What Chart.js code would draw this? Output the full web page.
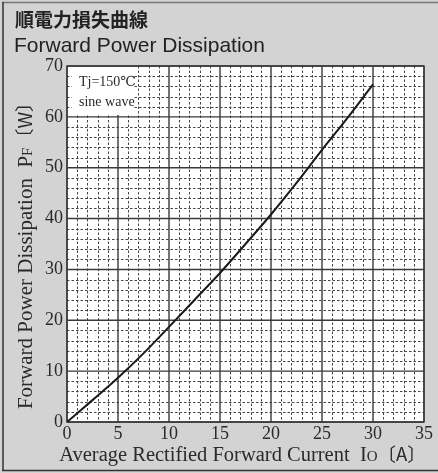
<!DOCTYPE html>
<html>
<head>
<meta charset="utf-8">
<script src="https://cdn.jsdelivr.net/npm/chart.js@4.4.1/dist/chart.umd.min.js"></script>
<style>
  html, body { margin: 0; padding: 0; background: #d3d3d3; }
  #wrap { width: 438px; height: 473px; position: relative; }
</style>
</head>
<body>
<div id="wrap"><canvas id="c" width="438" height="473"></canvas></div>
<script>
// Forward power dissipation vs. average rectified forward current
const currentA = [0, 2.5, 5, 7.5, 10, 12.5, 15, 17.5, 20, 22.5, 25, 27.5, 30];
const powerW   = [0, 4.3, 8.7, 13.5, 18.7, 24.0, 29.3, 35.0, 40.8, 47.0, 53.5, 59.8, 66.4];
const xTicks = [0, 5, 10, 15, 20, 25, 30, 35];
const yTicks = [0, 10, 20, 30, 40, 50, 60, 70];
const headingJa = '順電力損失曲線';
const headingEn = 'Forward Power Dissipation';
const noteLines = ['Tj=150℃', 'sine wave'];
const xMinorStep = 1, yMinorStep = 2;

const SERIF = '"Liberation Serif", "DejaVu Serif", serif';
const CJK = '"Noto Sans CJK JP", "Noto Sans CJK SC", sans-serif';
const INK = '#2a2a2a';

// draw a run of text pieces with varying fonts along a baseline
function drawRuns(ctx, runs, x, y) {
  let w = 0;
  runs.forEach(r => { ctx.font = r.font; w += ctx.measureText(r.text).width; });
  let cx = x - w / 2;
  runs.forEach(r => {
    ctx.font = r.font;
    ctx.fillText(r.text, cx, y);
    cx += ctx.measureText(r.text).width;
  });
}

const panel = {
  id: 'panel',
  beforeDraw(chart) {
    const ctx = chart.ctx;
    ctx.save();
    ctx.fillStyle = '#d3d3d3';
    ctx.fillRect(0, 0, chart.width, chart.height);
    // frame
    ctx.strokeStyle = '#777';
    ctx.lineWidth = 1.5;
    ctx.beginPath(); ctx.moveTo(2, 2.5); ctx.lineTo(chart.width, 2.5); ctx.stroke();
    ctx.strokeStyle = '#333';
    ctx.beginPath(); ctx.moveTo(3, 2); ctx.lineTo(3, 471); ctx.stroke();
    ctx.beginPath(); ctx.moveTo(2, 470.5); ctx.lineTo(chart.width, 470.5); ctx.stroke();
    // headings
    ctx.fillStyle = '#222';
    ctx.textBaseline = 'middle';
    ctx.textAlign = 'left';
    ctx.font = 'bold 19px ' + CJK;
    ctx.fillText(headingJa, 15, 20);
    ctx.font = '21px "Liberation Sans", Arial, sans-serif';
    ctx.fillText(headingEn, 14, 46);
    ctx.restore();
  },
  beforeDatasetsDraw(chart) {
    const ctx = chart.ctx;
    const a = chart.chartArea;
    const xs = chart.scales.x, ys = chart.scales.y;
    ctx.save();
    ctx.fillStyle = '#fff';
    ctx.fillRect(a.left, a.top, a.right - a.left, a.bottom - a.top);
    // minor dashed grid
    ctx.strokeStyle = '#444';
    ctx.lineWidth = 1;
    ctx.setLineDash([2.5, 2]);
    ctx.beginPath();
    for (let v = xs.min; v <= xs.max; v += xMinorStep) {
      if (v % 5 === 0) continue;
      const px = Math.round(xs.getPixelForValue(v)) + 0.5;
      ctx.moveTo(px, a.top); ctx.lineTo(px, a.bottom);
    }
    for (let v = ys.min; v <= ys.max; v += yMinorStep) {
      if (v % 10 === 0) continue;
      const py = Math.round(ys.getPixelForValue(v)) + 0.5;
      ctx.moveTo(a.left, py); ctx.lineTo(a.right, py);
    }
    ctx.stroke();
    // major solid grid
    ctx.setLineDash([]);
    ctx.strokeStyle = '#3a3a3a';
    ctx.lineWidth = 1.4;
    ctx.beginPath();
    xTicks.forEach(v => { const px = xs.getPixelForValue(v); ctx.moveTo(px, a.top); ctx.lineTo(px, a.bottom); });
    yTicks.forEach(v => { const py = ys.getPixelForValue(v); ctx.moveTo(a.left, py); ctx.lineTo(a.right, py); });
    ctx.stroke();
    ctx.strokeRect(a.left, a.top, a.right - a.left, a.bottom - a.top);
    // condition note
    ctx.fillStyle = '#fff';
    ctx.fillRect(a.left + 5, a.top + 1, 62, 48);
    ctx.fillStyle = INK;
    ctx.textBaseline = 'middle';
    ctx.textAlign = 'left';
    ctx.font = '14px ' + SERIF;
    ctx.fillText(noteLines[0], a.left + 12, a.top + 16);
    ctx.fillText(noteLines[1], a.left + 12, a.top + 36);
    ctx.restore();
  },
  afterDraw(chart) {
    const ctx = chart.ctx;
    const a = chart.chartArea;
    ctx.save();
    ctx.fillStyle = INK;
    ctx.textBaseline = 'alphabetic';
    ctx.textAlign = 'left';
    const small = '15px ' + SERIF;
    drawRuns(ctx, [
      { text: 'Average Rectified Forward Current  I', font: '20.5px ' + SERIF },
      { text: 'O', font: small },
      { text: '〔A〕', font: '18.5px ' + CJK }
    ], (a.left + a.right) / 2 - 3, 461);
    ctx.translate(32, (a.top + a.bottom) / 2 + 7);
    ctx.rotate(-Math.PI / 2);
    drawRuns(ctx, [
      { text: 'Forward Power Dissipation  P', font: '21px ' + SERIF },
      { text: 'F', font: small },
      { text: '〔W〕', font: '19px ' + CJK }
    ], 0, 0);
    ctx.restore();
  }
};

new Chart(document.getElementById('c'), {
  type: 'scatter',
  data: {
    datasets: [{
      data: currentA.map((x, i) => ({ x, y: powerW[i] })),
      showLine: true,
      borderColor: '#1a1a1a',
      borderWidth: 2,
      pointRadius: 0,
      cubicInterpolationMode: 'monotone'
    }]
  },
  options: {
    responsive: false,
    animation: false,
    layout: { padding: { top: 66, left: 0, right: 14, bottom: 0 } },
    plugins: { legend: { display: false }, tooltip: { enabled: false } },
    scales: {
      x: {
        type: 'linear', min: 0, max: 35,
        afterBuildTicks(s) { s.ticks = xTicks.map(v => ({ value: v })); },
        afterFit(s) { s.height = 51; },
        grid: { display: false, drawTicks: false, tickLength: 0 },
        border: { display: false },
        ticks: { font: { family: SERIF, size: 18 }, color: INK, padding: 1 }
      },
      y: {
        type: 'linear', min: 0, max: 70,
        afterBuildTicks(s) { s.ticks = yTicks.map(v => ({ value: v })); },
        afterFit(s) { s.width = 67; },
        grid: { display: false, drawTicks: false, tickLength: 0 },
        border: { display: false },
        ticks: { font: { family: SERIF, size: 18 }, color: INK, padding: 4 }
      }
    }
  },
  plugins: [panel]
});
</script>
</body>
</html>
